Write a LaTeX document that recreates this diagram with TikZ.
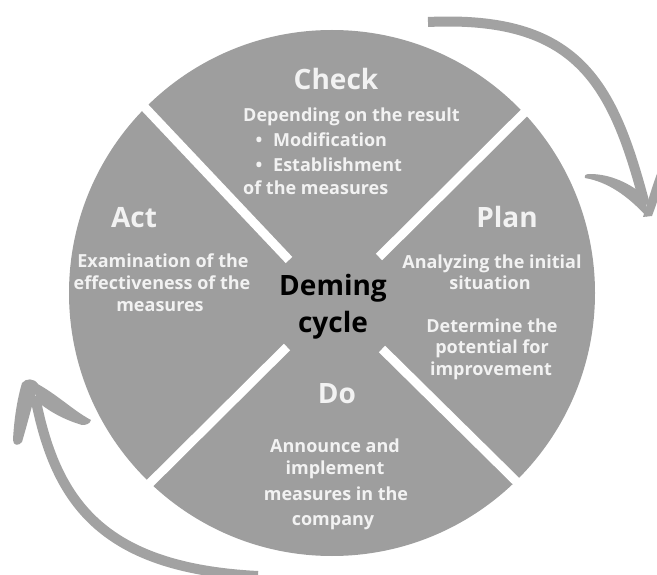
\documentclass[tikz,border=0pt]{standalone}
\usepackage{fontspec}
\setmainfont{Open Sans}
\definecolor{disc}{HTML}{9E9E9E}
\definecolor{arrowgray}{HTML}{A2A2A2}
\definecolor{txt}{HTML}{F2F2F2}
\tikzset{
  body/.style={text=txt, font=\fontsize{18}{22}\selectfont\bfseries, anchor=base, inner sep=0pt},
  bodyleft/.style={body, anchor=base west},
  phase/.style={text=txt, font=\fontsize{28}{34}\selectfont\bfseries, anchor=base, inner sep=0pt},
  hub/.style={text=black, font=\fontsize{28}{34}\selectfont\bfseries, anchor=base, inner sep=0pt},
  divider/.style={white, line width=9pt},
  band/.style={draw=arrowgray, line width=10pt},
  barb/.style={fill=arrowgray}
}
\begin{document}
\begin{tikzpicture}[x=1pt,y=-1pt]
\useasboundingbox (0,0) rectangle (657,575);
\clip (0,0) rectangle (657,575);
% disc
\fill[disc] (332,293) circle[radius=263];
% dividers
\coordinate (nwo) at (135,97);  \coordinate (nwi) at (289,260);
\coordinate (neo) at (534,103); \coordinate (nei) at (379,257);
\coordinate (swo) at (143,490); \coordinate (swi) at (287,347);
\coordinate (seo) at (525,490); \coordinate (sei) at (382,349);
\draw[divider] (nwo) -- (nwi);
\draw[divider] (neo) -- (nei);
\draw[divider] (swo) -- (swi);
\draw[divider] (seo) -- (sei);
% top-right arrow
\coordinate (ta) at (428,22);
\coordinate (tb) at (645,205);
\draw[band] (ta) .. controls (578,15) and (613,83) .. (tb);
\fill[barb] (647,217) .. controls (628,196) and (608,182) .. (585,178)
  .. controls (584,175) and (586,174) .. (590,174)
  .. controls (610,174) and (630,183) .. (646,197) -- cycle;
\fill[barb] (643,217) .. controls (650,195) and (656,172) .. (668,148)
  -- (672,160) .. controls (664,180) and (658,200) .. (652,216) -- cycle;
% bottom-left arrow
\coordinate (ba) at (258,576);
\coordinate (bb) at (35,396);
\draw[band] (ba) .. controls (100,568) and (55,500) .. (bb);
\fill[barb] (22,383) .. controls (26,378) and (34,378) .. (38,384)
  .. controls (33,402) and (27,425) .. (22,442)
  .. controls (19,446) and (13,446) .. (13,440)
  .. controls (14,420) and (17,400) .. (22,383) -- cycle;
\fill[barb] (30,380) .. controls (55,392) and (72,410) .. (91,420)
  .. controls (90,424) and (86,425) .. (82,425)
  .. controls (65,420) and (50,412) .. (38,402) -- cycle;
% titles
\node[phase] (check) at (336,90) {Check};
\node[phase] (act) at (134,228) {Act};
\node[phase] (plan) at (507,228) {Plan};
\node[phase] (do) at (337,403) {Do};
% centre
\node[hub] (deming) at (333,295) {Deming};
\node[hub] (cycle) at (333,333) {cycle};
% check text
\node[bodyleft] (c1) at (243,122) {Depending on the result};
\node[body] (cb1) at (259,147) {•};
\node[bodyleft] (c2) at (273,147) {Modification};
\node[body] (cb2) at (259,172) {•};
\node[bodyleft] (c3) at (273,172) {Establishment};
\node[bodyleft] (c4) at (243,195) {of the measures};
% act text
\node[body] (a1) at (163,268) {Examination of the};
\node[body] (a2) at (162,290) {effectiveness of the};
\node[body] (a3) at (160,312) {measures};
% plan text
\node[body] (p1) at (492,269) {Analyzing the initial};
\node[body] (p2) at (490,290) {situation};
\node[body] (p3) at (492,333) {Determine the};
\node[body] (p4) at (492,353) {potential for};
\node[body] (p5) at (491,375) {improvement};
% do text
\node[body] (d1) at (335,452) {Announce and};
\node[body] (d2) at (335,474) {implement};
\node[body] (d3) at (336,500) {measures in the};
\node[body] (d4) at (333,525) {company};
\end{tikzpicture}
\end{document}
